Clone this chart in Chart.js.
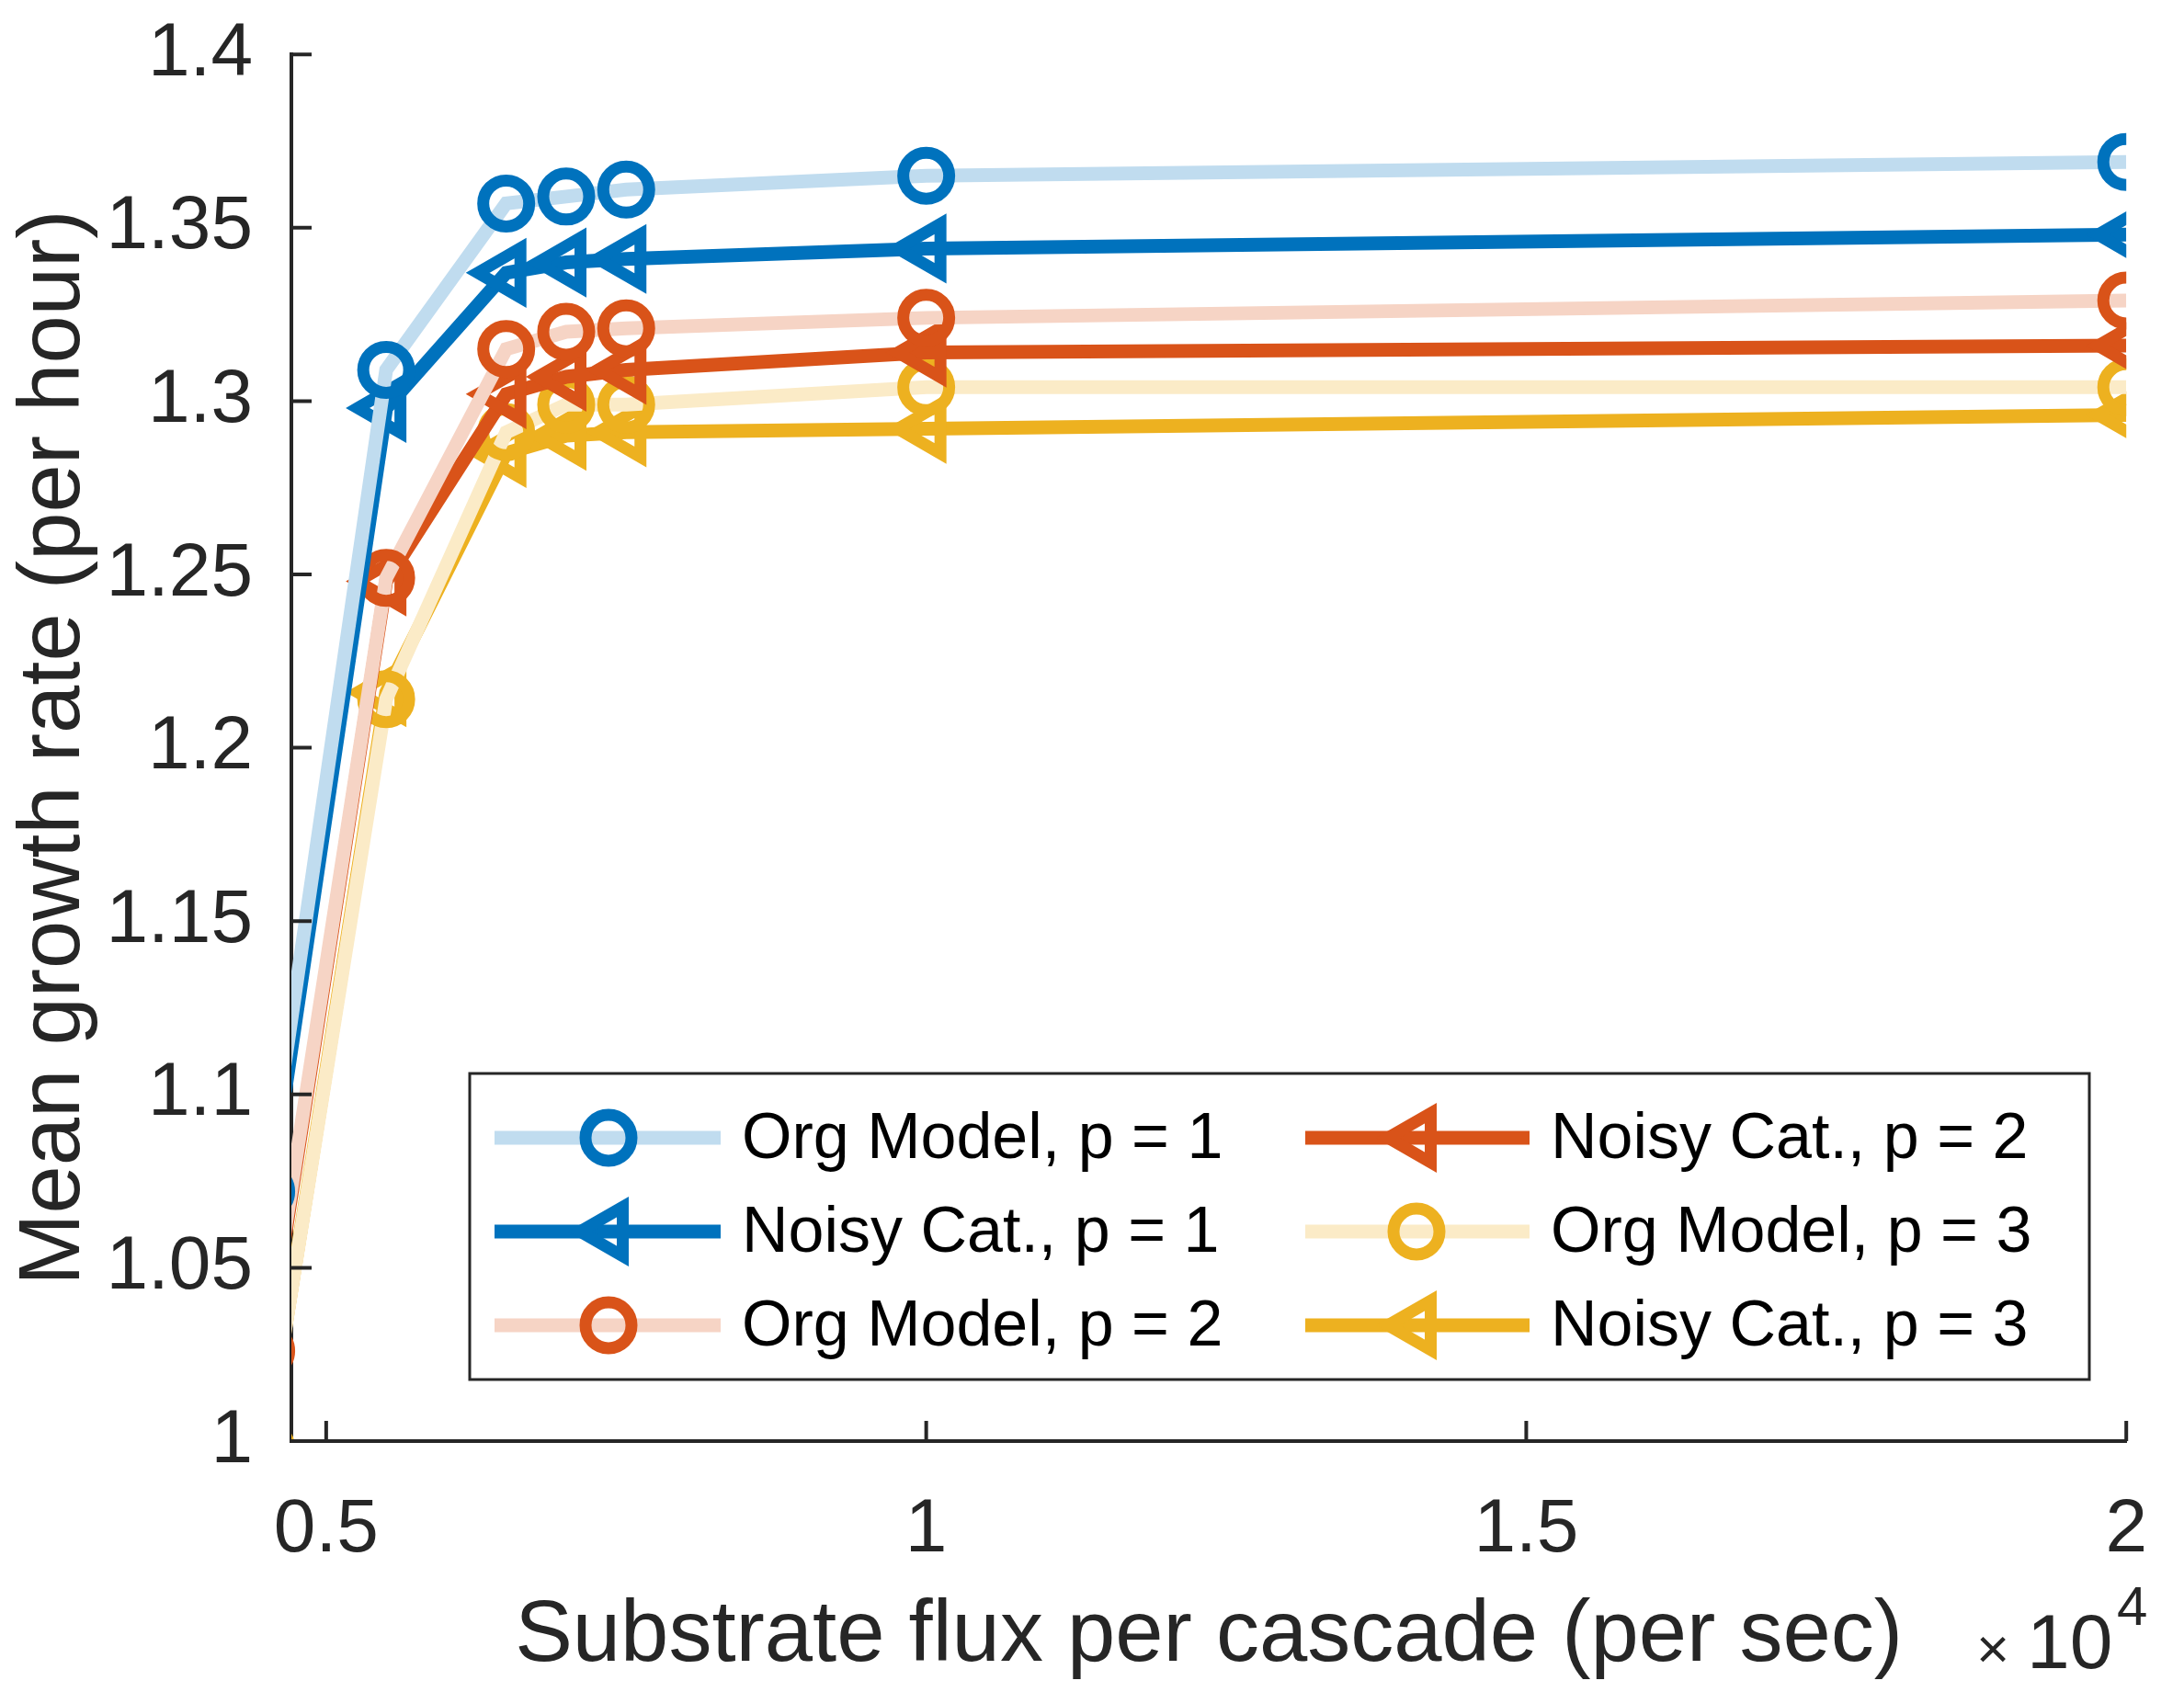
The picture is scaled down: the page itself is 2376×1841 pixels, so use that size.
<!DOCTYPE html>
<html>
<head>
<meta charset="utf-8">
<script src="https://cdn.jsdelivr.net/npm/chart.js@4"></script>
<style>
  html, body { margin: 0; padding: 0; background: #fff; overflow: hidden; }
  #c { display: block; margin-top: -24px; }
</style>
</head>
<body>
<canvas id="c" width="2376" height="1865"></canvas>
<script>
// dati
const fluxX = [0.45, 0.55, 0.65, 0.7, 0.75, 1, 2];
const orgP1 = [1.072, 1.309, 1.357, 1.359, 1.361, 1.365, 1.369];
const noisyP1 = [1.064, 1.298, 1.337, 1.340, 1.341, 1.344, 1.348];
const orgP2 = [1.026, 1.249, 1.315, 1.320, 1.321, 1.324, 1.329];
const noisyP2 = [1.024, 1.248, 1.302, 1.307, 1.309, 1.314, 1.316];
const orgP3 = [0.998, 1.214, 1.291, 1.299, 1.299, 1.304, 1.304];
const noisyP3 = [0.998, 1.216, 1.285, 1.290, 1.291, 1.292, 1.296];
const xTicks = [0.5, 1, 1.5, 2];
const yTicks = [1, 1.05, 1.1, 1.15, 1.2, 1.25, 1.3, 1.35, 1.4];
const labels = ["Org Model, p = 1", "Noisy Cat., p = 1", "Org Model, p = 2",
                "Noisy Cat., p = 2", "Org Model, p = 3", "Noisy Cat., p = 3"];

const FONT = "'Liberation Sans', Arial, sans-serif";
const INK = "#262626";

function toPts(ys) {
  return ys.map((y, i) => ({ x: fluxX[i], y: y }));
}

function makeSet(label, ys, solid, light, isOrg) {
  return {
    label: label,
    data: toPts(ys),
    borderColor: isOrg ? light : solid,
    borderWidth: 15,
    pointStyle: isOrg ? "circle" : "triangle",
    rotation: isOrg ? 0 : -90,
    pointRadius: isOrg ? 25 : 31,
    pointBorderWidth: 13,
    pointBorderColor: solid,
    pointBackgroundColor: "rgba(0,0,0,0)",
    tension: 0,
  };
}

const datasets = [
  makeSet(labels[0], orgP1, "#0072BD", "#C0DCEF", true),
  makeSet(labels[1], noisyP1, "#0072BD", "#0072BD", false),
  makeSet(labels[2], orgP2, "#D95319", "#F6D4C5", true),
  makeSet(labels[3], noisyP2, "#D95319", "#D95319", false),
  makeSet(labels[4], orgP3, "#EDB120", "#FBEBC7", true),
  makeSet(labels[5], noisyP3, "#EDB120", "#EDB120", false),
];

// tacche verso l'interno, legenda e moltiplicatore
const extras = {
  id: "extras",
  afterDraw(chart) {
    const ctx = chart.ctx;
    const a = chart.chartArea;
    const xs = chart.scales.x, ys = chart.scales.y;
    ctx.save();
    ctx.strokeStyle = INK;
    ctx.lineWidth = 4;
    ctx.beginPath();
    xTicks.forEach((t) => {
      const px = xs.getPixelForValue(t);
      ctx.moveTo(px, a.bottom);
      ctx.lineTo(px, a.bottom - 22);
    });
    yTicks.forEach((t) => {
      const py = ys.getPixelForValue(t);
      ctx.moveTo(a.left, py);
      ctx.lineTo(a.left + 22, py);
    });
    ctx.stroke();

    // legenda (coordinate della pagina, il canvas e' spostato di 24px)
    const off = 24;
    const bx = 511, by = 1168 + off, bw = 1762, bh = 333;
    ctx.fillStyle = "#fff";
    ctx.fillRect(bx, by, bw, bh);
    ctx.strokeStyle = INK;
    ctx.lineWidth = 3;
    ctx.strokeRect(bx, by, bw, bh);
    const rowsY = [1238 + off, 1340 + off, 1442 + off];
    const cols = [{ l: 538, m: 662, r: 784, t: 807 }, { l: 1420, m: 1541, r: 1664, t: 1687 }];
    ctx.textBaseline = "middle";
    datasets.forEach((d, i) => {
      const c = cols[Math.floor(i / 3)];
      const y = rowsY[i % 3];
      ctx.strokeStyle = d.borderColor;
      ctx.lineWidth = 15;
      ctx.beginPath();
      ctx.moveTo(c.l, y);
      ctx.lineTo(c.r, y);
      ctx.stroke();
      ctx.strokeStyle = d.pointBorderColor;
      ctx.fillStyle = "rgba(0,0,0,0)";
      ctx.lineWidth = 13;
      Chart.helpers.drawPoint(ctx, {
        pointStyle: d.pointStyle, rotation: d.rotation, radius: d.pointRadius,
        borderWidth: 13,
      }, c.m, y);
      ctx.fillStyle = "#000";
      ctx.font = "70px " + FONT;
      ctx.fillText(d.label, c.t, y + 3);
    });

    // x10^4
    ctx.fillStyle = INK;
    ctx.textBaseline = "alphabetic";
    ctx.font = "62px " + FONT;
    ctx.fillText("\u00d7", 2150, 1815 + off);
    ctx.font = "84px " + FONT;
    ctx.fillText("10", 2205, 1815 + off);
    ctx.font = "60px " + FONT;
    ctx.fillText("4", 2303, 1768 + off);
    ctx.restore();
  },
};

new Chart(document.getElementById("c"), {
  type: "line",
  data: { datasets: datasets },
  options: {
    responsive: false,
    animation: false,
    layout: { padding: { top: 0, right: 0 } },
    plugins: { legend: { display: false }, tooltip: { enabled: false } },
    scales: {
      x: {
        type: "linear",
        min: 0.471,
        max: 2,
        afterBuildTicks: (s) => { s.ticks = xTicks.map((v) => ({ value: v })); },
        afterFit: (s) => { s.height = 273; },
        grid: { display: false },
        border: { display: true, color: INK, width: 4 },
        ticks: {
          color: INK, font: { family: FONT, size: 82 }, padding: 40,
          maxRotation: 0, autoSkip: false,
          callback: (v) => String(v),
        },
        title: {
          display: true, text: "Substrate flux per cascade (per sec)",
          color: INK, font: { family: FONT, size: 94 }, padding: { top: 0 },
        },
      },
      y: {
        min: 1,
        max: 1.4,
        afterBuildTicks: (s) => { s.ticks = yTicks.map((v) => ({ value: v })); },
        afterFit: (s) => { s.width = 317; },
        grid: { display: false },
        border: { display: true, color: INK, width: 4 },
        ticks: {
          color: INK, font: { family: FONT, size: 82 }, padding: 34,
          autoSkip: false,
          callback: (v) => String(Math.round(v * 100) / 100),
        },
        title: {
          display: true, text: "Mean growth rate (per hour)",
          color: INK, font: { family: FONT, size: 94 }, padding: { bottom: 0 },
        },
      },
    },
  },
  plugins: [extras],
});
</script>
</body>
</html>
